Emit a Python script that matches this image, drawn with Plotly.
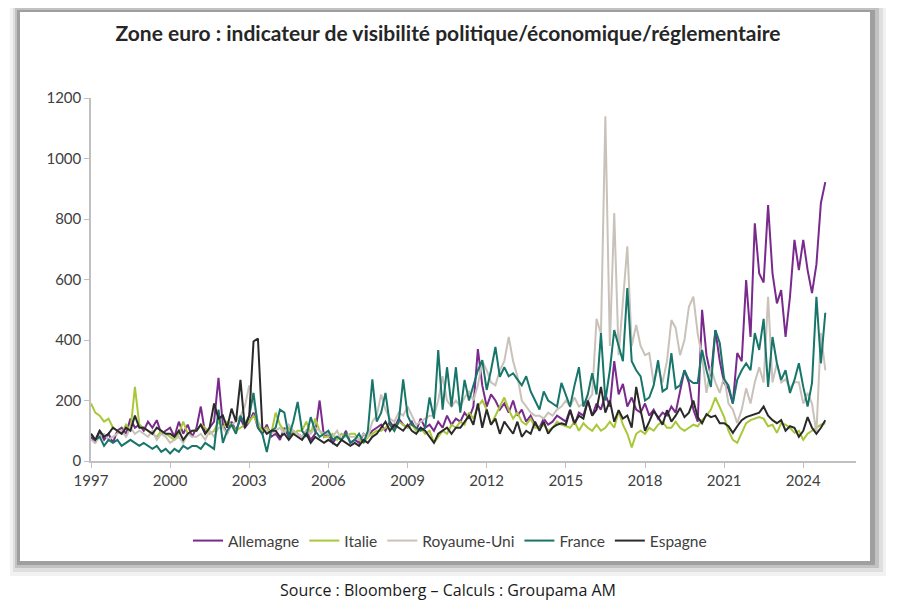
import pandas as pd
import plotly.graph_objects as go

# Bimonthly observations (Jan, Mar, May, Jul, Sep, Nov), 1997-01 .. 2024-11
dates = pd.date_range("1997-01-01", periods=168, freq="2MS")

allemagne = [
    80, 60, 100, 70, 90, 60,
    100, 110, 90, 140, 110, 120,
    100, 130, 110, 135, 90, 100,
    110, 80, 130, 90, 120, 80,
    110, 180, 90, 110, 130, 275,
    120, 90, 130, 100, 140, 110,
    130, 160, 110, 90, 120, 80,
    90, 70, 110, 80, 100, 90,
    80, 100, 70, 90, 200, 80,
    90, 60, 80, 70, 100, 60,
    70, 60, 90, 80, 100, 110,
    120, 100, 130, 110, 140, 120,
    110, 130, 100, 140, 110, 120,
    100, 130, 110, 150, 120, 140,
    130, 160, 140, 180, 370, 250,
    180, 220, 200, 170, 190, 160,
    200, 150, 170, 130, 150, 120,
    110, 140, 120, 130, 150, 140,
    130, 170, 120, 160, 150, 200,
    150, 190, 170, 220, 180, 330,
    220, 255, 180, 210, 170, 160,
    190, 150, 170, 140, 160, 150,
    180, 160, 230, 300, 258, 170,
    130, 500, 350, 280, 433, 330,
    258, 240, 190, 357, 330, 598,
    410, 786, 620, 590, 846, 620,
    521, 565, 410, 543, 731, 631,
    731, 631, 555, 650, 853, 922,
]

italie = [
    190, 160, 150, 130, 140, 110,
    100, 90, 120, 100, 245, 120,
    110, 100, 90, 80, 100, 90,
    80, 70, 90, 130, 90, 100,
    100, 120, 110, 90, 100, 130,
    110, 130, 120, 100, 110, 120,
    130, 150, 120, 100, 110, 90,
    160, 120, 100, 110, 90, 100,
    100, 130, 90, 140, 100, 80,
    80, 90, 70, 90, 80, 90,
    90, 70, 60, 80, 90, 100,
    100, 110, 120, 100, 130, 120,
    110, 120, 100, 110, 90, 100,
    60, 80, 100, 90, 120, 110,
    130, 120, 160, 140, 180, 200,
    170, 120, 150, 180, 210, 170,
    140, 160, 130, 120, 140, 110,
    110, 120, 100, 110, 130, 120,
    115, 110, 130, 100, 125, 110,
    100, 120, 100, 110, 130, 110,
    165, 120, 90, 45, 90, 100,
    90, 110, 100, 120, 130, 110,
    110, 130, 110, 100, 110, 120,
    115, 135, 150, 170, 210, 180,
    145, 100, 70, 60, 93, 125,
    135, 140, 145, 140, 115, 120,
    93, 125, 120, 110, 93, 100,
    70, 90, 100, 110, 120, 125,
]

royaume_uni = [
    70, 60, 80, 90, 70, 80,
    90, 100, 80, 110, 90, 100,
    90, 80, 100, 70, 90, 80,
    60, 70, 80, 60, 90, 80,
    80, 90, 70, 100, 80, 110,
    110, 90, 120, 130, 150, 180,
    250, 200, 130, 110, 100, 90,
    100, 110, 90, 120, 100, 90,
    80, 100, 90, 110, 100, 90,
    90, 80, 100, 70, 90, 80,
    80, 70, 90, 80, 130, 150,
    220, 170, 140, 130, 160, 150,
    180, 150, 120, 130, 140, 150,
    150, 200, 280, 200, 180, 200,
    180, 210, 230, 200, 250, 330,
    300, 260, 250, 300, 330, 410,
    330, 280, 200, 180, 160, 150,
    150, 140, 160, 150, 170, 180,
    200, 180, 210, 180, 190, 200,
    220, 470, 420, 1140, 380, 820,
    350, 530, 710, 380, 450, 380,
    350, 357, 258, 310, 260, 330,
    466, 440, 350, 400, 510, 543,
    420, 345, 225, 310, 260, 225,
    280, 190, 170, 125, 170, 240,
    190, 260, 310, 260, 543, 260,
    323, 260, 270, 240, 260, 260,
    190, 225, 190, 93, 423, 300,
]

france = [
    90, 70, 80, 50, 70, 60,
    70, 50, 60, 70, 60, 50,
    60, 50, 40, 50, 30, 40,
    25, 40, 30, 50, 40, 50,
    50, 40, 60, 50, 40, 170,
    60, 100, 120, 90, 150, 120,
    150, 225, 110, 90, 30, 100,
    110, 170, 160, 80, 130, 195,
    100, 80, 145, 100, 80, 90,
    100, 70, 80, 70, 90, 60,
    70, 90, 60, 100, 270, 130,
    160, 225, 120, 100, 130, 270,
    150, 120, 110, 100, 110, 210,
    140, 367, 170, 310, 180, 310,
    160, 268, 200, 250, 300, 333,
    235, 300, 377, 278, 310, 280,
    290, 270, 250, 280, 230, 200,
    170, 230, 200, 190, 180, 258,
    220, 180, 250, 310, 180, 220,
    290, 220, 423, 200, 300, 433,
    380, 330, 572, 330, 300, 280,
    200, 210, 250, 333, 230, 240,
    357, 240, 250, 300, 268, 258,
    258, 367, 300, 245, 433, 390,
    270, 250, 190, 268, 300, 323,
    300, 423, 367, 470, 245, 410,
    323, 268, 300, 225, 268, 323,
    245, 180, 258, 543, 323, 490,
]

espagne = [
    90, 70, 100, 80, 90, 110,
    100, 90, 110, 100, 150, 110,
    110, 100, 90, 110, 100, 90,
    90, 80, 100, 70, 90, 100,
    100, 120, 90, 110, 190, 140,
    150, 110, 173, 130, 268, 110,
    150, 395, 405, 110, 90, 100,
    100, 80, 90, 70, 90, 80,
    70, 90, 60, 80, 70, 60,
    70, 60, 50, 70, 60, 50,
    60, 50, 70, 60, 80, 90,
    110, 130, 100, 120, 110, 100,
    120, 100, 90, 110, 100, 80,
    60, 90, 100, 110, 90, 110,
    110, 130, 150, 120, 190, 110,
    170, 120, 140, 90, 130, 110,
    90, 130, 80, 100, 90, 130,
    100, 130, 90, 110, 120, 125,
    120, 168, 125, 150, 140, 200,
    150, 170, 245, 160, 200, 130,
    168, 140, 150, 110, 245, 168,
    100, 130, 165, 145, 120, 168,
    130, 150, 175, 145, 160, 200,
    145, 125, 155, 145, 150, 125,
    125, 115, 93, 115, 135, 145,
    150, 155, 160, 180, 150, 135,
    125, 135, 100, 115, 110, 80,
    100, 145, 110, 90, 110, 135,
]

series_names = ["Allemagne", "Italie", "Royaume-Uni", "France", "Espagne"]
series_values = [allemagne, italie, royaume_uni, france, espagne]
series_colors = ["#7a2a8c", "#a8c83a", "#c9c2ba", "#177569", "#2a2a2a"]

x_tick_years = [str(y) for y in range(1997, 2025, 3)]
y_tick_values = [0, 200, 400, 600, 800, 1000, 1200]

# The page body has an 8px margin: the figure sits at (8, 8) in the window.
OFF = 8
W, H = 881, 594
L, T = 91 - OFF, 98 - OFF
PR, PB = 856 - OFF, 461 - OFF
R, B = W - PR, H - PB
PW, PH = PR - L, PB - T


def px(xp):
    return (xp - OFF - L) / PW


def py(yp):
    return (PB - (yp - OFF)) / PH


fig = go.Figure()
for name, vals, col in zip(series_names, series_values, series_colors):
    fig.add_trace(go.Scatter(x=dates, y=vals, mode="lines", name=name,
                             line=dict(color=col, width=2)))

shapes = []
for (x0, y0, x1, y1, c) in [
    (10, 3, 886, 576, "rgba(0,0,0,0.05)"),
    (13, 6, 883, 572, "rgba(0,0,0,0.08)"),
    (15, 8, 879, 568, "rgba(0,0,0,0.13)"),
    (17, 10, 875, 565, "rgba(0,0,0,0.18)"),
]:
    shapes.append(dict(type="rect", xref="paper", yref="paper",
                       x0=px(x0), x1=px(x1), y0=py(y1), y1=py(y0),
                       fillcolor=c, line=dict(width=0), layer="below"))
shapes.append(dict(type="rect", xref="paper", yref="paper",
                   x0=px(20), x1=px(870), y0=py(561), y1=py(12),
                   fillcolor="white", line=dict(width=0), layer="below"))

fig.update_layout(
    width=W, height=H,
    margin=dict(l=L, r=R, t=T, b=B),
    paper_bgcolor="white",
    plot_bgcolor="rgba(0,0,0,0)",
    font=dict(family="Lato, 'Open Sans', sans-serif", color="#404040", size=15),
    title=dict(text="<b>Zone euro : indicateur de visibilité politique/économique/réglementaire</b>",
               x=(448 - OFF) / W, xanchor="center", y=1 - (34 - OFF) / H, yanchor="middle",
               font=dict(size=21, color="#262626", family="Lato, sans-serif")),
    shapes=shapes,
    showlegend=True,
    legend=dict(orientation="h", x=px(450), xanchor="center", y=py(541), yanchor="middle",
                font=dict(size=15.5, color="#404040"), itemwidth=30,
                bgcolor="rgba(0,0,0,0)", traceorder="normal"),
    annotations=[dict(text="Source : Bloomberg – Calculs : Groupama AM",
                      xref="paper", yref="paper", x=px(448), y=py(590),
                      xanchor="center", yanchor="middle", showarrow=False,
                      font=dict(size=16, color="#1a1a1a", family="'Open Sans', sans-serif"))],
)

fig.update_xaxes(
    type="date",
    range=["1997-01-01", "2025-12-31"],
    tickvals=[f"{y}-01-01" for y in x_tick_years],
    ticktext=x_tick_years,
    showgrid=False, zeroline=False,
    showline=True, linecolor="#c0c0c0", linewidth=1.5,
    ticks="outside", ticklen=5, tickcolor="#c0c0c0",
    tickfont=dict(size=15, color="#404040"),
)
fig.update_yaxes(
    range=[0, 1200],
    tickvals=y_tick_values,
    showgrid=False, zeroline=False,
    showline=True, linecolor="#c0c0c0", linewidth=1.5,
    ticks="outside", ticklen=5, tickcolor="#c0c0c0",
    tickfont=dict(size=15, color="#404040"),
)

fig.write_html("out.html")
